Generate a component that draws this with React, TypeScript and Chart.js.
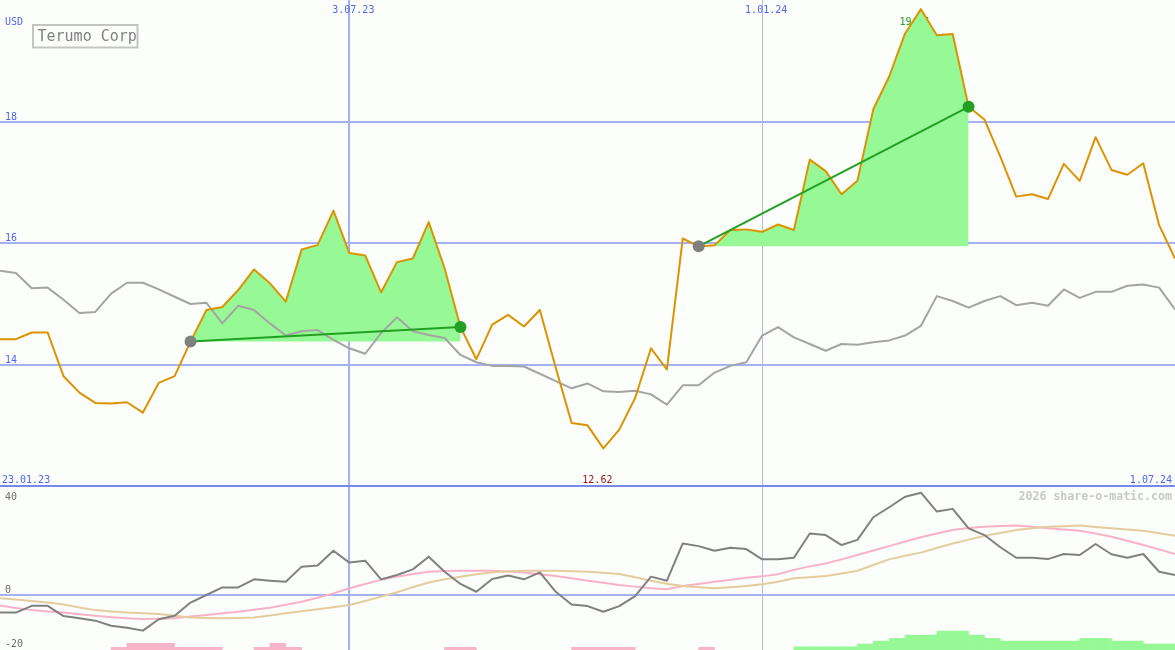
import React, { useEffect, useRef } from "react";
import { Chart, registerables } from "chart.js";

Chart.register(...registerables);

// ---------- data ----------
const DATES = [
  "30.01.23", "6.02.23", "13.02.23", "20.02.23", "27.02.23", "6.03.23", "13.03.23", "20.03.23", "27.03.23", "3.04.23",
  "10.04.23", "17.04.23", "24.04.23", "1.05.23", "8.05.23", "15.05.23", "22.05.23", "29.05.23", "5.06.23", "12.06.23",
  "19.06.23", "26.06.23", "3.07.23", "10.07.23", "17.07.23", "24.07.23", "31.07.23", "7.08.23", "14.08.23", "21.08.23",
  "28.08.23", "4.09.23", "11.09.23", "18.09.23", "25.09.23", "2.10.23", "9.10.23", "16.10.23", "23.10.23", "30.10.23",
  "6.11.23", "13.11.23", "20.11.23", "27.11.23", "4.12.23", "11.12.23", "18.12.23", "25.12.23", "1.01.24", "8.01.24",
  "15.01.24", "22.01.24", "29.01.24", "5.02.24", "12.02.24", "19.02.24", "26.02.24", "4.03.24", "11.03.24", "18.03.24",
  "25.03.24", "1.04.24", "8.04.24", "15.04.24", "22.04.24", "29.04.24", "6.05.24", "13.05.24", "20.05.24", "27.05.24",
  "3.06.24", "10.06.24", "17.06.24", "24.06.24", "1.07.24",
];

const PRICE = [
  14.42, 14.42, 14.53, 14.53, 13.81, 13.54, 13.37, 13.36, 13.38, 13.21,
  13.70, 13.81, 14.38, 14.90, 14.95, 15.23, 15.57, 15.34, 15.04, 15.90,
  15.97, 16.54, 15.84, 15.80, 15.19, 15.69, 15.75, 16.35, 15.59, 14.62,
  14.09, 14.66, 14.82, 14.63, 14.90, 13.95, 13.04, 13.00, 12.62, 12.93,
  13.45, 14.27, 13.92, 16.08, 15.95, 15.97, 16.22, 16.23, 16.19, 16.31,
  16.22, 17.38, 17.19, 16.81, 17.03, 18.21, 18.75, 19.46, 19.86, 19.43,
  19.45, 18.25, 18.04, 17.43, 16.77, 16.81, 16.73, 17.31, 17.03, 17.75,
  17.21, 17.13, 17.32, 16.30, 15.75,
];

const BENCH = [
  15.55, 15.51, 15.26, 15.27, 15.07, 14.85, 14.87, 15.17, 15.35, 15.35,
  15.24, 15.12, 15.00, 15.02, 14.68, 14.97, 14.90, 14.68, 14.48, 14.55,
  14.57, 14.41, 14.27, 14.18, 14.52, 14.78, 14.55, 14.49, 14.44, 14.16,
  14.04, 13.98, 13.98, 13.97, 13.85, 13.73, 13.61, 13.69, 13.56, 13.55,
  13.57, 13.51, 13.34, 13.66, 13.66, 13.87, 13.98, 14.04, 14.48, 14.62,
  14.45, 14.34, 14.23, 14.34, 14.33, 14.37, 14.40, 14.48, 14.64, 15.13,
  15.05, 14.94, 15.05, 15.13, 14.98, 15.02, 14.97, 15.24, 15.10, 15.20,
  15.20, 15.30, 15.32, 15.27, 14.91,
];

const MOMENTUM = [
  -6.5, -6.5, -4.0, -4.0, -7.8, -8.6, -9.5, -11.4, -12.1, -13.2,
  -9.0, -7.7, -2.8, 0.0, 2.8, 2.8, 5.8, 5.3, 4.9, 10.5,
  10.9, 16.4, 12.0, 12.7, 5.8, 7.4, 9.5, 14.2, 8.6, 4.1,
  1.2, 5.9, 7.2, 5.8, 8.4, 1.2, -3.5, -4.1, -6.2, -4.1,
  -0.4, 6.8, 5.3, 19.1, 18.1, 16.4, 17.5, 17.0, 13.2, 13.2,
  13.8, 22.8, 22.2, 18.5, 20.4, 28.8, 32.5, 36.4, 37.9, 30.9,
  31.9, 24.7, 22.2, 17.7, 13.8, 13.8, 13.3, 15.2, 14.8, 18.9,
  15.1, 13.8, 15.2, 8.6, 7.4,
];

const SIGNAL_FAST = [
  -3.9, -4.8, -5.6, -6.1, -6.5, -7.1, -7.7, -8.2, -8.6, -8.9,
  -8.8, -8.6, -8.0, -7.4, -6.8, -6.2, -5.5, -4.7, -3.6, -2.5,
  -1.0, 0.6, 2.5, 4.1, 5.6, 6.8, 7.8, 8.6, 8.9, 9.0,
  9.0, 9.0, 8.7, 8.3, 7.7, 7.0, 6.2, 5.3, 4.5, 3.7,
  3.1, 2.5, 2.1, 3.3, 4.1, 4.9, 5.6, 6.4, 6.9, 7.7,
  9.3, 10.6, 11.7, 13.2, 14.8, 16.5, 18.1, 19.8, 21.4, 22.8,
  24.1, 24.8, 25.3, 25.6, 25.7, 25.3, 24.7, 24.3, 23.8, 22.8,
  21.6, 20.1, 18.5, 16.9, 15.2,
];

const SIGNAL_SLOW = [
  -1.2, -1.7, -2.2, -2.8, -3.5, -4.6, -5.6, -6.1, -6.5, -6.8,
  -7.0, -7.7, -8.3, -8.5, -8.6, -8.5, -8.3, -7.6, -6.8, -6.0,
  -5.3, -4.5, -3.7, -2.2, -0.6, 1.0, 2.9, 4.6, 5.8, 6.8,
  7.7, 8.4, 8.8, 9.0, 9.0, 9.0, 8.8, 8.6, 8.2, 7.8,
  6.6, 5.3, 4.2, 3.3, 2.9, 2.5, 2.9, 3.3, 4.0, 4.9,
  6.2, 6.6, 7.0, 8.0, 9.0, 11.1, 13.2, 14.5, 15.7, 17.4,
  19.1, 20.5, 21.9, 23.0, 24.1, 24.7, 25.3, 25.5, 25.7, 25.2,
  24.7, 24.3, 23.8, 22.9, 21.9,
];

// weekly histogram (one value per week interval), negative = pink, positive = green
const HIST = [
  0, 0, 0, 0, 0, 0, 0, -1.0, -2.5, -2.5,
  -2.5, -1.0, -1.0, -1.0, 0, 0, -1.0, -2.5, -1.0, 0,
  0, 0, 0, 0, 0, 0, 0, 0, -1.0, -1.0,
  0, 0, 0, 0, 0, 0, -1.0, -1.0, -1.0, -1.0,
  0, 0, 0, 0, -1.0, 0, 0, 0, 0, 0,
  1.2, 1.2, 1.2, 1.2, 2.2, 3.3, 4.3, 5.5, 5.5, 7.0,
  7.0, 5.5, 4.3, 3.3, 3.3, 3.3, 3.3, 3.3, 4.3, 4.3,
  3.3, 3.3, 2.2, 2.2,
];

const SIGNAL_START = [12, 44];
const SIGNAL_END = [29, 61];

const PRICE_TICKS = [14, 16, 18];
const PANEL_FLOOR = 12;
const OSC_TICKS = [0, -20];
const OSC_TOP_LABEL = "40";
const DATE_TICKS = ["3.07.23", "1.01.24"];
const TITLE = "Terumo Corp";
const CURRENCY = "USD";
const RANGE_START = "23.01.23";
const WATERMARK = "2026 share-o-matic.com";

// ---------- styles ----------
const W = 1175;
const H = 650;
const BG = "#fcfefc";
const GRID = "#a4b2f4";
const GRID_SOFT = "#b4bce2";
const SEPARATOR = "#7888ee";
const BLUE_TEXT = "#5064f0";
const ORANGE = "#dc9300";
const GREY = "#a4a4a4";
const FILL_GREEN = "#96f996";
const TREND_GREEN = "#22a022";
const MOM = "#808080";
const PINK = "#f8b2c8";
const TAN = "#e4cc9c";
const FONT = '"DejaVu Sans Mono", monospace';

// price panel: 18 -> y=122, 12 -> y=486
const PX_PER_USD = 364 / 6;
const Y_MAX = 12 + 486 / PX_PER_USD;
const Y_MIN = 12 - (H - 486) / PX_PER_USD;
// oscillator panel: 0 -> y=595
const PX_PER_OSC = 2.7;
const Y2_MAX = 595 / PX_PER_OSC;
const Y2_MIN = -(H - 595) / PX_PER_OSC;

const decor = {
  id: "decor",
  beforeDraw(chart: any) {
    const c = chart.ctx;
    c.save();
    c.fillStyle = BG;
    c.fillRect(0, 0, chart.width, chart.height);
    c.restore();
  },
  beforeDatasetsDraw(chart: any) {
    const { ctx, scales } = chart;
    const x = scales.x;
    const y = scales.y;
    const y2 = scales.y2;
    const sepY = y.getPixelForValue(PANEL_FLOOR);
    ctx.save();
    ctx.textBaseline = "alphabetic";
    ctx.font = `10px ${FONT}`;
    ctx.fillStyle = BLUE_TEXT;
    ctx.textAlign = "left";
    ctx.fillText(CURRENCY, 5, 25);
    PRICE_TICKS.forEach((v) => ctx.fillText(String(v), 5, y.getPixelForValue(v) - 2));
    ctx.fillText(RANGE_START, 2, sepY - 3);
    ctx.textAlign = "right";
    ctx.fillText(DATES[DATES.length - 1], 1172, sepY - 3);
    ctx.textAlign = "center";
    DATE_TICKS.forEach((d) => ctx.fillText(d, x.getPixelForValue(DATES.indexOf(d)) + 4, 13));

    // min / max labels
    let minI = 0;
    let maxI = 0;
    PRICE.forEach((v, i) => {
      if (v < PRICE[minI]) minI = i;
      if (v > PRICE[maxI]) maxI = i;
    });
    ctx.fillStyle = "#a01818";
    ctx.fillText(PRICE[minI].toFixed(2), x.getPixelForValue(minI) - 6, sepY - 3);
    ctx.fillStyle = TREND_GREEN;
    ctx.fillText(PRICE[maxI].toFixed(2), x.getPixelForValue(maxI) - 6.5, 25);

    // oscillator labels
    ctx.textAlign = "left";
    ctx.fillStyle = "#6c6c6c";
    ctx.fillText(OSC_TOP_LABEL, 5, sepY + 13.5);
    OSC_TICKS.forEach((v) => ctx.fillText(String(v), 5, y2.getPixelForValue(v) - 2.5));

    // watermark
    ctx.textAlign = "right";
    ctx.font = `bold 11.6px ${FONT}`;
    ctx.fillStyle = "#c8c8c8";
    ctx.fillText(WATERMARK, 1172, sepY + 14);

    // title box
    ctx.fillStyle = BG;
    ctx.fillRect(33, 25, 104.5, 22.5);
    ctx.lineWidth = 2;
    ctx.strokeStyle = "#c4c4c4";
    ctx.strokeRect(33, 25, 104.5, 22.5);
    ctx.textAlign = "left";
    ctx.font = `15px ${FONT}`;
    ctx.fillStyle = "#808080";
    ctx.fillText(TITLE, 37.5, 41);
    ctx.restore();
  },
};

function buildDatasets() {
  const ds: any[] = [];
  SIGNAL_START.forEach((s, k) => {
    const e = SIGNAL_END[k];
    ds.push({
      type: "line",
      data: PRICE.map((v, i) => (i >= s && i <= e ? v : null)),
      yAxisID: "y",
      borderColor: "rgba(0,0,0,0)",
      borderWidth: 1,
      pointRadius: 0,
      fill: { value: PRICE[s] },
      backgroundColor: FILL_GREEN,
      order: 10,
    });
    ds.push({
      type: "line",
      data: PRICE.map((v, i) => (i === s || i === e ? v : null)),
      yAxisID: "y",
      borderColor: TREND_GREEN,
      borderWidth: 2,
      pointRadius: 0,
      spanGaps: true,
      fill: false,
      order: 6,
    });
    ds.push({
      type: "line",
      data: PRICE.map((v, i) => (i === s ? v : null)),
      yAxisID: "y",
      showLine: false,
      pointRadius: 6,
      pointBackgroundColor: "#808080",
      pointBorderColor: "#808080",
      pointBorderWidth: 0,
      order: 5,
    });
    ds.push({
      type: "line",
      data: PRICE.map((v, i) => (i === e ? v : null)),
      yAxisID: "y",
      showLine: false,
      pointRadius: 6,
      pointBackgroundColor: TREND_GREEN,
      pointBorderColor: TREND_GREEN,
      pointBorderWidth: 0,
      order: 5,
    });
  });
  ds.push({
    type: "line",
    data: BENCH,
    yAxisID: "y",
    borderColor: GREY,
    borderWidth: 2,
    pointRadius: 0,
    fill: false,
    order: 9,
  });
  ds.push({
    type: "line",
    data: PRICE,
    yAxisID: "y",
    borderColor: ORANGE,
    borderWidth: 2,
    pointRadius: 0,
    fill: false,
    order: 8,
  });
  // oscillator panel
  ds.push({
    type: "bar",
    data: HIST.map((h) => (h === 0 ? null : [Y2_MIN, Y2_MIN + Math.abs(h)])),
    xAxisID: "xb",
    yAxisID: "y2",
    backgroundColor: HIST.map((h) => (h < 0 ? "#f8b4c8" : FILL_GREEN)),
    borderWidth: 0,
    barPercentage: 1,
    categoryPercentage: 1,
    grouped: false,
    order: 20,
  });
  ds.push({
    type: "line",
    data: SIGNAL_FAST,
    yAxisID: "y2",
    borderColor: PINK,
    borderWidth: 2,
    pointRadius: 0,
    fill: false,
    order: 15,
  });
  ds.push({
    type: "line",
    data: SIGNAL_SLOW,
    yAxisID: "y2",
    borderColor: TAN,
    borderWidth: 2,
    pointRadius: 0,
    fill: false,
    order: 14,
  });
  ds.push({
    type: "line",
    data: MOMENTUM,
    yAxisID: "y2",
    borderColor: MOM,
    borderWidth: 2,
    pointRadius: 0,
    fill: false,
    order: 13,
  });
  return ds;
}

export default function App() {
  const ref = useRef<HTMLCanvasElement>(null);
  useEffect(() => {
    if (!ref.current) return;
    const chart = new Chart(ref.current, {
      type: "line",
      data: { labels: DATES, datasets: buildDatasets() },
      plugins: [decor],
      options: {
        animation: false,
        responsive: false,
        devicePixelRatio: 1,
        events: [],
        layout: { padding: 0, autoPadding: false },
        plugins: { legend: { display: false }, tooltip: { enabled: false } },
        elements: { line: { tension: 0, borderJoinStyle: "round" } },
        scales: {
          x: {
            type: "category",
            offset: false,
            position: "bottom",
            ticks: { display: false },
            border: { display: false },
            grid: {
              drawTicks: false,
              color: (c: any) => (c.tick && c.tick.value === DATES.indexOf(DATE_TICKS[0]) ? GRID : GRID_SOFT),
              lineWidth: (c: any) => (c.tick && c.tick.value === DATES.indexOf(DATE_TICKS[0]) ? 2 : 1),
            },
            afterBuildTicks: (s: any) => {
              s.ticks = DATE_TICKS.map((d) => ({ value: DATES.indexOf(d) }));
            },
          },
          xb: {
            type: "category",
            labels: DATES.slice(0, -1),
            offset: true,
            display: false,
            grid: { offset: true },
          },
          y: {
            type: "linear",
            position: "left",
            min: Y_MIN,
            max: Y_MAX,
            ticks: { display: false },
            border: { display: false },
            grid: {
              drawTicks: false,
              color: (c: any) => (c.tick && c.tick.value === PANEL_FLOOR ? SEPARATOR : GRID),
              lineWidth: 2,
            },
            afterBuildTicks: (s: any) => {
              s.ticks = [PANEL_FLOOR, ...PRICE_TICKS].map((v) => ({ value: v }));
            },
          },
          y2: {
            type: "linear",
            position: "right",
            min: Y2_MIN,
            max: Y2_MAX,
            ticks: { display: false },
            border: { display: false },
            grid: { drawTicks: false, color: GRID, lineWidth: 2 },
            afterBuildTicks: (s: any) => {
              s.ticks = [{ value: 0 }];
            },
          },
        },
      } as any,
    } as any);
    return () => chart.destroy();
  }, []);
  return (
    <div style={{ position: "fixed", left: 0, top: 0, width: W, height: H, background: BG }}>
      <canvas ref={ref} width={W} height={H} style={{ display: "block", width: W, height: H }} />
    </div>
  );
}
